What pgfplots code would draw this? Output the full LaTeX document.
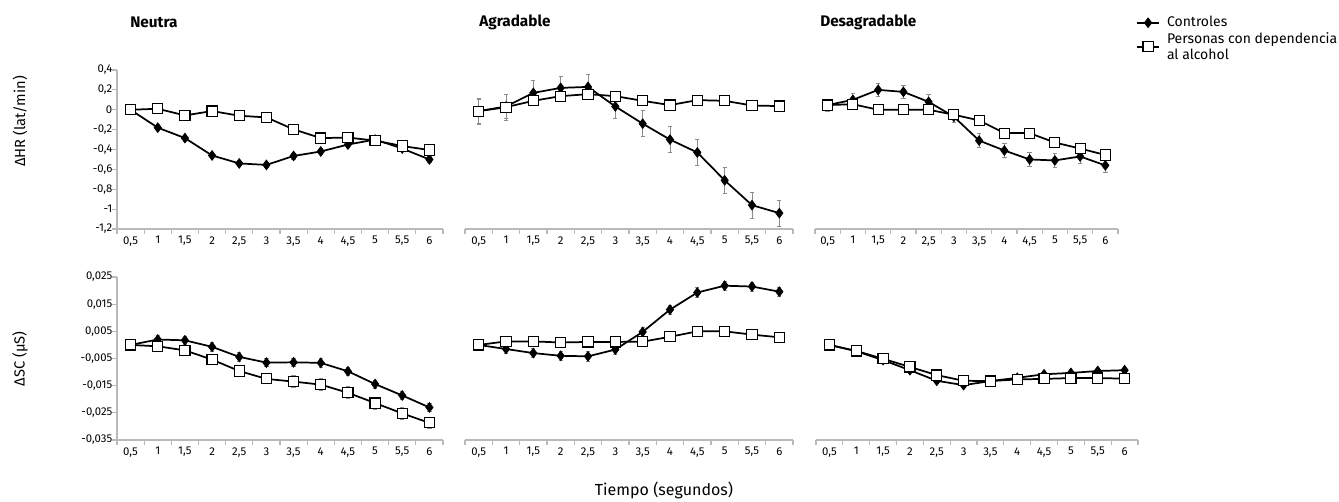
\documentclass[border=0pt]{standalone}
\usepackage{fontspec}
\setmainfont{Fira Sans}
\usepackage{pgfplots}
\usepackage{pgfplotstable}
\pgfplotsset{compat=1.18}
\definecolor{axisgray}{RGB}{185,185,185}
\definecolor{errgray}{RGB}{140,140,140}

% x: segundos, c/ce: Controles, p/pe: Personas con dependencia al alcohol
\pgfplotstableread{
x   c      ce    p      pe
0.5 0      0.03  0      0.03
1   -0.18  0.03  0.01   0.03
1.5 -0.285 0.03  -0.057 0.03
2   -0.46  0.03  -0.013 0.03
2.5 -0.54  0.03  -0.06  0.03
3   -0.555 0.03  -0.077 0.03
3.5 -0.465 0.03  -0.197 0.03
4   -0.42  0.03  -0.285 0.03
4.5 -0.35  0.03  -0.28  0.03
5   -0.30  0.03  -0.31  0.03
5.5 -0.39  0.03  -0.365 0.03
6   -0.50  0.03  -0.405 0.03
}\neutraHR
\pgfplotstableread{
x   c      ce    p      pe
0.5 -0.014 0.12  -0.014 0.13
1   0.033  0.12  0.026  0.13
1.5 0.17   0.13  0.09   0.04
2   0.22   0.12  0.137  0.04
2.5 0.23   0.13  0.157  0.04
3   0.033  0.12  0.137  0.04
3.5 -0.14  0.13  0.09   0.04
4   -0.30  0.13  0.047  0.04
4.5 -0.43  0.13  0.097  0.04
5   -0.71  0.13  0.09   0.04
5.5 -0.96  0.13  0.043  0.04
6   -1.04  0.13  0.037  0.04
}\agradHR
\pgfplotstableread{
x   c      ce    p      pe
0.5 0.047  0.06  0.047  0.06
1   0.10   0.06  0.056  0.04
1.5 0.20   0.07  0      0.04
2   0.18   0.07  0      0.04
2.5 0.08   0.07  0      0.04
3   -0.07  0.06  -0.05  0.04
3.5 -0.31  0.07  -0.107 0.04
4   -0.41  0.07  -0.235 0.04
4.5 -0.50  0.07  -0.235 0.04
5   -0.51  0.07  -0.33  0.04
5.5 -0.47  0.07  -0.39  0.04
6   -0.56  0.07  -0.455 0.04
}\desagHR
\pgfplotstableread{
x   c       ce      p       pe
0.5 0       0.0015  0       0.0015
1   0.002   0.0015  -0.0005 0.0015
1.5 0.0017  0.0015  -0.002  0.0018
2   -0.0007 0.0015  -0.0054 0.0018
2.5 -0.0044 0.0015  -0.0096 0.0018
3   -0.0065 0.0015  -0.0125 0.0018
3.5 -0.0064 0.0015  -0.0135 0.0022
4   -0.0066 0.0015  -0.0146 0.0022
4.5 -0.0097 0.0015  -0.0176 0.0022
5   -0.0144 0.0015  -0.0214 0.0022
5.5 -0.0186 0.0015  -0.0252 0.0022
6   -0.023  0.0015  -0.0287 0.0022
}\neutraSC
\pgfplotstableread{
x   c       ce      p       pe
0.5 0       0.0015  0       0.0015
1   -0.0015 0.0015  0.0013  0.001
1.5 -0.003  0.0017  0.0013  0.001
2   -0.004  0.0017  0.0009  0.001
2.5 -0.0042 0.0017  0.0011  0.001
3   -0.0017 0.0017  0.0011  0.001
3.5 0.0048  0.0017  0.0012  0.001
4   0.013   0.0017  0.003   0.001
4.5 0.0193  0.0017  0.005   0.001
5   0.0218  0.0017  0.005   0.001
5.5 0.0215  0.0017  0.0038  0.001
6   0.0196  0.0017  0.0028  0.001
}\agradSC
\pgfplotstableread{
x   c       ce      p       pe
0.5 0       0.0008  0       0.0008
1   -0.0023 0.0008  -0.0022 0.0008
1.5 -0.0056 0.0008  -0.0051 0.0008
2   -0.0093 0.0008  -0.0081 0.0008
2.5 -0.0132 0.0008  -0.0111 0.0008
3   -0.0148 0.0008  -0.0132 0.0008
3.5 -0.0133 0.0008  -0.0133 0.0008
4   -0.0121 0.0008  -0.0127 0.0008
4.5 -0.0108 0.0008  -0.0125 0.0008
5   -0.0103 0.0008  -0.0122 0.0008
5.5 -0.0096 0.0008  -0.0122 0.0008
6   -0.0093 0.0008  -0.0124 0.0008
}\desagSC

\pgfplotsset{
  panel/.style={
    scale only axis,
    clip=false,
    xmin=0.25, xmax=6.25,
    axis x line*=bottom,
    axis line style={axisgray, line width=0.8pt},
    tick style={axisgray, line width=0.8pt},
    tick align=outside,
    major tick length=0pt,
    minor tick length=3.5pt,
    scaled y ticks=false,
    xtick={0.5,1,1.5,2,2.5,3,3.5,4,4.5,5,5.5,6},
    xticklabels={{0,5},1,{1,5},2,{2,5},3,{3,5},4,{4,5},5,{5,5},6},
    minor xtick={0.25,0.75,1.25,1.75,2.25,2.75,3.25,3.75,4.25,4.75,5.25,5.75,6.25},
    tick label style={font=\fontsize{8.5}{10}\selectfont, black},
    xticklabel style={yshift=-2pt},
  },
  hr/.style={panel, ymin=-1.2, ymax=0.4, height=119.25pt},
  sc/.style={panel, ymin=-0.035, ymax=0.025, height=122.25pt},
  yshown/.style={axis y line*=left},
  yhidden/.style={axis y line=none},
  cstyle/.style={black, line width=1.3pt, mark=diamond*, mark size=3.6pt,
    mark options={solid, fill=black, line width=0.6pt},
    error bars/.cd, y dir=both, y explicit,
    error bar style={errgray, line width=0.6pt},
    error mark options={rotate=90, mark size=1.6pt, errgray, line width=0.6pt}},
  pstyle/.style={black, line width=1.3pt, mark=square*, mark size=3.8pt,
    mark options={solid, fill=white, line width=0.8pt},
    error bars/.cd, y dir=both, y explicit,
    error bar style={errgray, line width=0.6pt},
    error mark options={rotate=90, mark size=1.6pt, errgray, line width=0.6pt}},
}

\begin{document}
\begin{tikzpicture}
\useasboundingbox (0,0) rectangle (1004.25pt,-375.75pt);

% ---- fila superior: HR ----
\begin{axis}[hr, yshown, at={(87.75pt,-171.75pt)}, anchor=south west, width=244.5pt,
  ytick={-1.2,-1,-0.8,-0.6,-0.4,-0.2,0,0.2,0.4},
  yticklabels={{-1,2},-1,{-0,8},{-0,6},{-0,4},{-0,2},0,{0,2},{0,4}},
  minor ytick={-1.2,-1,-0.8,-0.6,-0.4,-0.2,0,0.2,0.4}]
\addplot[cstyle] table[x=x, y=c, y error=ce] {\neutraHR};
\addplot[pstyle] table[x=x, y=p, y error=pe] {\neutraHR};
\end{axis}

\begin{axis}[hr, yhidden, at={(348.75pt,-171.75pt)}, anchor=south west, width=246pt]
\addplot[cstyle] table[x=x, y=c, y error=ce] {\agradHR};
\addplot[pstyle] table[x=x, y=p, y error=pe] {\agradHR};
\end{axis}

\begin{axis}[hr, yhidden, at={(611.25pt,-171.75pt)}, anchor=south west, width=227.25pt,
  legend style={at={(1.058,1.355)}, anchor=north west, draw=none, fill=none,
    font=\fontsize{10.5}{12}\selectfont, cells={anchor=west, align=left},
    /tikz/every odd column/.append style={column sep=3pt},
    row sep=-1.5pt, inner sep=0pt}]
\addplot[cstyle] table[x=x, y=c, y error=ce] {\desagHR};
\addlegendentry{Controles}
\addplot[pstyle] table[x=x, y=p, y error=pe] {\desagHR};
\addlegendentry{Personas con dependencia\\al alcohol}
\end{axis}

% ---- fila inferior: SC ----
\begin{axis}[sc, yshown, at={(87.75pt,-330pt)}, anchor=south west, width=244.5pt,
  ytick={-0.035,-0.025,-0.015,-0.005,0.005,0.015,0.025},
  yticklabels={{-0,035},{-0,025},{-0,015},{-0,005},{0,005},{0,015},{0,025}},
  minor ytick={-0.035,-0.025,-0.015,-0.005,0.005,0.015,0.025}]
\addplot[cstyle] table[x=x, y=c, y error=ce] {\neutraSC};
\addplot[pstyle] table[x=x, y=p, y error=pe] {\neutraSC};
\end{axis}

\begin{axis}[sc, yhidden, at={(348.75pt,-330pt)}, anchor=south west, width=246pt]
\addplot[cstyle] table[x=x, y=c, y error=ce] {\agradSC};
\addplot[pstyle] table[x=x, y=p, y error=pe] {\agradSC};
\end{axis}

\begin{axis}[sc, yhidden, at={(612pt,-330pt)}, anchor=south west, width=241.5pt]
\addplot[cstyle] table[x=x, y=c, y error=ce] {\desagSC};
\addplot[pstyle] table[x=x, y=p, y error=pe] {\desagSC};
\end{axis}

% ---- textos ----
\node[anchor=west, inner sep=0pt, font=\fontsize{11.5}{13}\selectfont\bfseries] at (97.5pt,-16.5pt) {Neutra};
\node[anchor=west, inner sep=0pt, font=\fontsize{11.5}{13}\selectfont\bfseries] at (359.25pt,-16.5pt) {Agradable};
\node[anchor=west, inner sep=0pt, font=\fontsize{11.5}{13}\selectfont\bfseries] at (615pt,-16.5pt) {Desagradable};
\node[rotate=90, font=\fontsize{11}{13}\selectfont] at (15pt,-91.1pt) {ΔHR (lat/min)};
\node[rotate=90, font=\fontsize{11}{13}\selectfont] at (15pt,-269.25pt) {ΔSC (μS)};
\node[font=\fontsize{12}{14}\selectfont] at (498pt,-367.5pt) {Tiempo (segundos)};
\end{tikzpicture}
\end{document}
